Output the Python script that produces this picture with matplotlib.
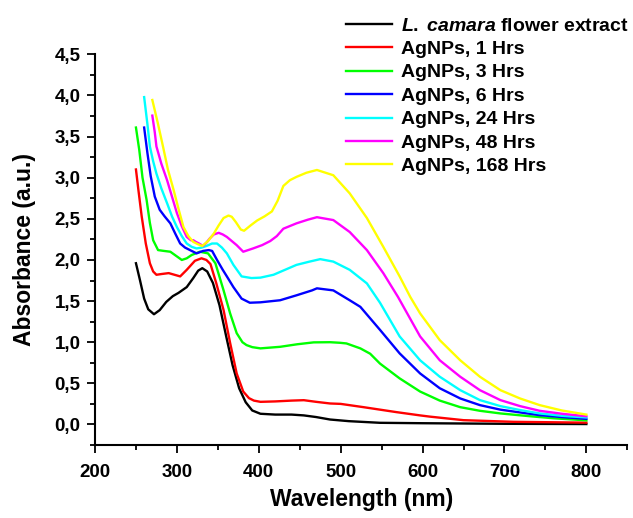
import numpy as np
import matplotlib
matplotlib.use('Agg')
import matplotlib.pyplot as plt
from matplotlib.ticker import MultipleLocator, FuncFormatter

plt.rcParams['font.family'] = ['Liberation Sans', 'DejaVu Sans']
plt.rcParams['font.weight'] = 'bold'
plt.rcParams['mathtext.fontset'] = 'custom'
plt.rcParams['mathtext.it'] = 'Liberation Sans:italic:bold'
plt.rcParams['mathtext.rm'] = 'Liberation Sans:bold'

# ---- data ----
wl_extract = [250, 255, 260, 265, 272, 279, 287, 295, 302, 312, 320, 326, 331, 337, 344, 352, 360, 368,
              376, 384, 392, 402, 420, 440, 455, 470, 487, 510, 548, 600, 700, 800]
abs_extract = [1.96, 1.75, 1.53, 1.40, 1.34, 1.39, 1.49, 1.56, 1.60, 1.67, 1.78, 1.87, 1.90, 1.86, 1.72, 1.45,
               1.08, 0.72, 0.44, 0.27, 0.17, 0.13, 0.12, 0.12, 0.11, 0.09, 0.06, 0.04, 0.02, 0.015, 0.008, 0.005]

wl_1h = [250, 253, 257, 262, 267, 271, 275, 282, 290, 297, 304, 312, 322, 330, 336, 341, 348, 357, 365, 373,
         381, 388, 394, 402, 420, 440, 455, 470, 487, 500, 528, 548, 568, 597, 609, 650, 711, 800]
abs_1h = [3.10, 2.85, 2.53, 2.20, 1.96, 1.86, 1.82, 1.83, 1.84, 1.82, 1.80, 1.88, 1.99, 2.02, 2.00, 1.95, 1.72,
          1.39, 0.99, 0.62, 0.40, 0.32, 0.29, 0.275, 0.28, 0.29, 0.295, 0.275, 0.255, 0.25, 0.21, 0.18, 0.15,
          0.11, 0.095, 0.052, 0.032, 0.022]

wl_3h = [250, 254, 258, 263, 267, 271, 277, 284, 292, 299, 306, 312, 318, 328, 338, 347, 357, 365, 373, 380,
         385, 392, 402, 426, 447, 467, 487, 499, 507, 524, 536, 548, 572, 597, 621, 646, 670, 695, 731, 760, 800]
abs_3h = [3.61, 3.34, 3.00, 2.73, 2.45, 2.24, 2.12, 2.11, 2.10, 2.05, 2.00, 2.02, 2.06, 2.10, 2.08, 1.96, 1.63,
          1.35, 1.11, 1.00, 0.965, 0.94, 0.925, 0.944, 0.975, 0.998, 1.00, 0.993, 0.985, 0.925, 0.86, 0.74,
          0.56, 0.40, 0.29, 0.21, 0.166, 0.134, 0.10, 0.075, 0.05]

wl_6h = [260, 264, 268, 273, 279, 285, 292, 298, 304, 310, 316, 324, 332, 339, 343, 349, 356, 361, 369, 379,
         389, 402, 426, 446, 465, 471, 491, 511, 524, 548, 572, 597, 621, 646, 670, 695, 719, 743, 770, 800]
abs_6h = [3.61, 3.30, 3.02, 2.77, 2.61, 2.53, 2.445, 2.32, 2.20, 2.15, 2.12, 2.08, 2.11, 2.12, 2.11, 2.00,
          1.88, 1.80, 1.67, 1.53, 1.48, 1.485, 1.51, 1.57, 1.63, 1.655, 1.63, 1.51, 1.43, 1.15, 0.864, 0.62,
          0.44, 0.316, 0.235, 0.18, 0.146, 0.113, 0.09, 0.068]

wl_24h = [260, 264, 267, 271, 275, 281, 288, 294, 300, 306, 312, 318, 324, 330, 336, 343, 349, 355, 361, 369,
          379, 391, 402, 418, 432, 446, 462, 475, 491, 511, 532, 548, 572, 597, 621, 646, 670, 695, 719, 743,
          770, 800]
abs_24h = [3.98, 3.65, 3.38, 3.20, 3.05, 2.87, 2.69, 2.53, 2.40, 2.29, 2.20, 2.16, 2.14, 2.15, 2.17, 2.20,
           2.20, 2.15, 2.08, 1.94, 1.80, 1.78, 1.785, 1.82, 1.88, 1.94, 1.98, 2.01, 1.98, 1.88, 1.715, 1.48,
           1.07, 0.78, 0.58, 0.417, 0.296, 0.223, 0.175, 0.134, 0.105, 0.085]

wl_48h = [270, 273, 275, 281, 288, 294, 300, 306, 312, 317, 320, 323, 327, 332, 336, 340, 345, 351, 356, 361,
          367, 373, 381, 387, 393, 404, 414, 422, 430, 446, 460, 471, 491, 511, 532, 552, 570, 597, 621, 646,
          670, 695, 719, 743, 770, 800]
abs_48h = [3.755, 3.55, 3.38, 3.17, 2.97, 2.77, 2.57, 2.41, 2.28, 2.24, 2.24, 2.22, 2.20, 2.17, 2.21, 2.26,
           2.31, 2.33, 2.31, 2.28, 2.23, 2.18, 2.10, 2.12, 2.14, 2.18, 2.23, 2.29, 2.38, 2.445, 2.49, 2.52,
           2.485, 2.34, 2.12, 1.84, 1.55, 1.07, 0.78, 0.58, 0.417, 0.296, 0.223, 0.166, 0.13, 0.10]

wl_168h = [270, 277, 283, 289, 296, 302, 308, 314, 320, 326, 331, 338, 345, 351, 357, 363, 367, 372, 378,
           382, 390, 398, 407, 416, 423, 430, 438, 446, 458, 471, 491, 511, 532, 552, 572, 585, 597, 621,
           646, 670, 695, 719, 743, 770, 800]
abs_168h = [3.945, 3.65, 3.38, 3.10, 2.85, 2.62, 2.40, 2.29, 2.22, 2.19, 2.17, 2.23, 2.32, 2.42, 2.51, 2.54,
            2.525, 2.46, 2.37, 2.355, 2.42, 2.48, 2.53, 2.59, 2.72, 2.90, 2.97, 3.01, 3.06, 3.094, 3.03, 2.81,
            2.51, 2.16, 1.80, 1.55, 1.35, 1.025, 0.78, 0.58, 0.417, 0.316, 0.235, 0.17, 0.12]

labels = [r'$\mathit{L.\;camara}$ flower extract', 'AgNPs, 1 Hrs', 'AgNPs, 3 Hrs', 'AgNPs, 6 Hrs',
          'AgNPs, 24 Hrs', 'AgNPs, 48 Hrs', 'AgNPs, 168 Hrs']
colors = ['#000000', '#FF0000', '#00FF00', '#0000FF', '#00FFFF', '#FF00FF', '#FFFF00']

series = [(wl_extract, abs_extract), (wl_1h, abs_1h), (wl_3h, abs_3h), (wl_6h, abs_6h),
          (wl_24h, abs_24h), (wl_48h, abs_48h), (wl_168h, abs_168h)]

fig = plt.figure(figsize=(6.33, 5.18), dpi=100)
ax = fig.add_axes([0.1501, 0.1409, 0.8409, 0.7542])

for (x, y), c, lab in zip(series, colors, labels):
    ax.plot(x, y, color=c, lw=1.7, label=lab, solid_joinstyle='round')

ax.set_xlim(200, 850)
ax.set_ylim(-0.25, 4.5)
ax.xaxis.set_major_locator(MultipleLocator(100))
ax.xaxis.set_minor_locator(MultipleLocator(50))
ax.yaxis.set_major_locator(MultipleLocator(0.5))
ax.yaxis.set_minor_locator(MultipleLocator(0.25))
ax.yaxis.set_major_formatter(FuncFormatter(lambda v, p: f'{v:.1f}'.replace('.', ',')))

for s in ['top', 'right']:
    ax.spines[s].set_visible(False)
for s in ['left', 'bottom']:
    ax.spines[s].set_linewidth(1.5)
ax.tick_params(which='major', direction='out', length=5.5, width=1.3, labelsize=13.5, pad=8)
ax.tick_params(which='minor', direction='out', length=3.5, width=1.3)
ax.tick_params(axis='y', which='major', pad=5)
for t in ax.get_xticklabels() + ax.get_yticklabels():
    t.set_fontweight('bold')

ax.set_xlabel('Wavelength (nm)', fontsize=16.5, fontweight='bold', labelpad=5)
ax.set_ylabel('Absorbance (a.u.)', fontsize=16.5, fontweight='bold', labelpad=13)

fig.legend(loc='upper left', bbox_to_anchor=(346 / 633, 1 - 17 / 518), frameon=False,
           labelspacing=0.3, handlelength=2.35, handletextpad=0.5,
           borderpad=0, borderaxespad=0, prop={'weight': 'bold', 'size': 14})

fig.savefig('out.png', dpi=100)
